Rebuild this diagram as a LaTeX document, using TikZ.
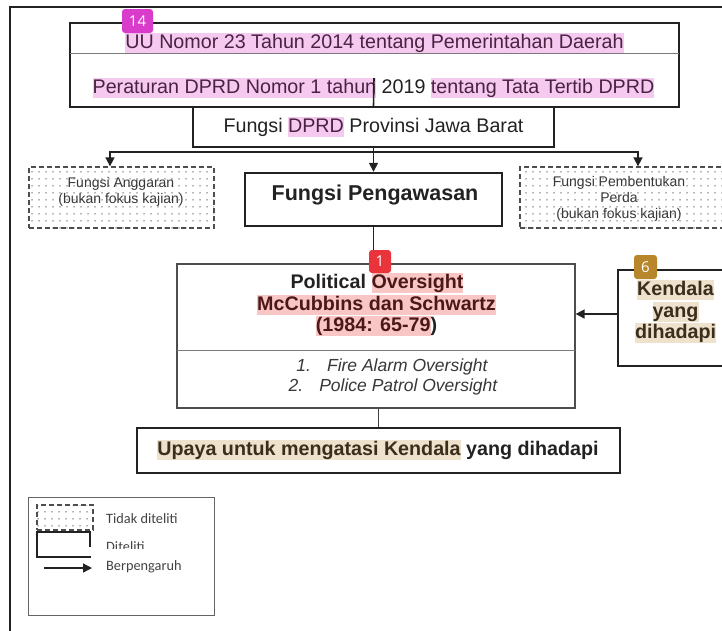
\documentclass[tikz,border=0pt]{standalone}
\usepackage{fontspec}
\setmainfont{Liberation Sans}
\newfontfamily\legfont{Carlito}
\newfontfamily\badgefont{Open Sans}
\usetikzlibrary{arrows.meta,patterns.meta,calc}
\definecolor{hlpink}{HTML}{F6C9F1}
\definecolor{txpink}{HTML}{4A2342}
\definecolor{hlred}{HTML}{F9C6C6}
\definecolor{txred}{HTML}{4E1717}
\definecolor{hltan}{HTML}{EEE2CC}
\definecolor{txtan}{HTML}{3A2E1C}
\definecolor{ink}{HTML}{222222}
\definecolor{bdpink}{HTML}{D93BCB}
\definecolor{bdred}{HTML}{E8343A}
\definecolor{bdgold}{HTML}{B8862B}
\newcommand\hlt[3]{{\setlength\fboxsep{0pt}\colorbox{#1}{\color{#2}\vrule height 0.8em depth 0.26em width 0pt #3}}}
\tikzset{
  mainbox/.style={draw=ink, line width=2.4pt, fill=white, rectangle, inner sep=0pt},
  thinbox/.style={draw=ink!80, line width=1.2pt, fill=white, rectangle, inner sep=0pt},
  dashbox/.style={draw=ink!80, line width=1.3pt, dash pattern=on 5pt off 3pt, rectangle, inner sep=0pt,
     pattern={Dots[distance=6.5pt,radius=0.8pt]}, pattern color=ink!70},
  bigtxt/.style={font=\fontsize{19.7}{23}\selectfont, text=ink, inner sep=0pt},
  boldtxt/.style={font=\fontsize{19.7}{23}\selectfont\bfseries, text=ink, inner sep=0pt},
  itxt/.style={font=\fontsize{17.5}{21}\selectfont\itshape, text=ink!90, inner sep=0pt},
  smalltxt/.style={font=\fontsize{14}{16}\selectfont, text=ink!90, inner sep=0pt, align=center},
  legtxt/.style={font=\legfont\fontsize{14.3}{16}\selectfont, text=ink!85, inner sep=0pt},
  conn/.style={draw=ink, line width=1.6pt},
  arr/.style={draw=ink, line width=1.6pt, -{Triangle[length=9pt,width=9pt]}},
  badge/.style={rounded corners=3pt, text=white, font=\badgefont\fontsize{15}{16}\selectfont, inner sep=0pt}
}
\begin{document}
\begin{tikzpicture}[x=1pt,y=-1pt]
\useasboundingbox (0,0) rectangle (722,630);
\clip (0,0) rectangle (722,630);
\fill[white] (0,0) rectangle (722,630);
% outer frame
\draw[draw=ink, line width=2.5pt] (10,640) -- (10,7) -- (740,7);

% top box
\node[mainbox, minimum width=609pt, minimum height=84pt] (top) at (374.5,65) {};
\draw[draw=ink!60, line width=1pt] (70,53) -- (679,53);
\node[bigtxt] (uu) at (374.5,43) {\hlt{hlpink}{txpink}{UU Nomor 23 Tahun 2014 tentang Pemerintahan Daerah}};
\node[bigtxt] (perda) at (373.5,88) {\hlt{hlpink}{txpink}{Peraturan DPRD Nomor 1 tahun} 2019 \hlt{hlpink}{txpink}{tentang Tata Tertib DPRD}};

% Fungsi DPRD
\node[mainbox, minimum width=361pt, minimum height=40pt] (fdprd) at (373.5,127) {};
\node[bigtxt] (fdprdt) at (373.5,127) {Fungsi \hlt{hlpink}{txpink}{DPRD} Provinsi Jawa Barat};
\coordinate (c1) at (374,78);
\draw[conn] (c1) -- (fdprd.north);

% three functions
\node[dashbox, minimum width=185pt, minimum height=61pt] (lbox) at (121.5,197.5) {};
\node[smalltxt] (lboxt) at (121,191.5) {Fungsi Anggaran\\(bukan fokus kajian)};
\node[dashbox, minimum width=230pt, minimum height=61pt] (rbox) at (635,197.5) {};
\node[smalltxt] (rboxt) at (619,199) {Fungsi Pembentukan\\Perda\\(bukan fokus kajian)};
\node[mainbox, minimum width=257pt, minimum height=53pt] (fpeng) at (373.5,199.5) {};
\node[boldtxt, font=\fontsize{21.5}{25}\selectfont\bfseries] (fpengt) at (375,195) {Fungsi Pengawasan};

\coordinate (split) at (fdprd.south |- 0,152);
\draw[conn] (fdprd.south) -- (split);
\draw[arr] (split) -| ([xshift=-11.5pt]lbox.north);
\draw[arr] (split) -| ([xshift=3pt]rbox.north);
\draw[arr] (split) -- (fpeng.north);

% Political oversight
\node[thinbox, minimum width=398pt, minimum height=144pt] (pol) at (376,336) {};
\draw[draw=ink!60, line width=1pt] (177,350) -- (575,350);
\node[boldtxt] (pol1) at (377,283) {Political \hlt{hlred}{txred}{Oversight}};
\node[boldtxt] (pol2) at (376.5,305) {\hlt{hlred}{txred}{McCubbins dan Schwartz}};
\node[boldtxt] (pol3) at (376.5,326) {\hlt{hlred}{txred}{(1984: 65-79}\rlap{)}\phantom{)}};
\node[itxt] (it1) at (392,367) {1.\hspace{16pt}Fire Alarm Oversight};
\node[itxt] (it2) at (393,387) {2.\hspace{16pt}Police Patrol Oversight};
\draw[arr] (fpeng.south) -- (fpeng.south |- pol.north);

% Kendala
\node[mainbox, minimum width=122pt, minimum height=96pt] (kend) at (679,318) {};
\node[boldtxt] (k1) at (675.5,290) {\hlt{hltan}{txtan}{Kendala}};
\node[boldtxt] (k2) at (675.5,312) {\hlt{hltan}{txtan}{yang}};
\node[boldtxt] (k3) at (675.5,333) {\hlt{hltan}{txtan}{dihadapi}};
\draw[arr] ([yshift=4pt]kend.west) -- ([yshift=4pt]kend.west -| pol.east);

% Upaya
\node[mainbox, minimum width=483pt, minimum height=45pt] (upaya) at (378.5,450.5) {};
\node[boldtxt] (upayat) at (378,450) {\hlt{hltan}{txtan}{Upaya untuk mengatasi Kendala} yang dihadapi};
\draw[conn, line width=1.2pt, draw=ink!85] (pol.south -| upaya.north) -- (upaya.north);

% legend
\node[thinbox, draw=ink!70, line width=1pt, minimum width=186pt, minimum height=118pt] (leg) at (121,556) {};
\node[dashbox, minimum width=56pt, minimum height=25pt] (lg1) at (65,517.5) {};
\node[legtxt, anchor=west] (lgt1) at (106,519) {Tidak diteliti};
\draw[draw=ink, line width=2.4pt] (90,547) -- (90,532) -- (37,532) -- (37,557) -- (91,557);
\begin{scope}
\clip (100,535) rectangle (170,548);
\node[legtxt, anchor=base west] (lgt2) at (106,551.5) {Diteliti};
\end{scope}
\coordinate (la1) at (44,568);
\coordinate (la2) at (92,568);
\draw[arr, line width=1.3pt] (la1) -- (la2);
\node[legtxt, anchor=west] (lgt3) at (106,567) {Berpengaruh};

% badges
\node[badge, fill=bdpink, minimum width=31pt, minimum height=24pt] (b14) at (137.5,21) {14};
\node[badge, fill=bdred, minimum width=22pt, minimum height=23pt] (b1) at (380,261.5) {1};
\node[badge, fill=bdgold, minimum width=23pt, minimum height=24pt] (b6) at (645.5,267) {6};
\end{tikzpicture}
\end{document}
